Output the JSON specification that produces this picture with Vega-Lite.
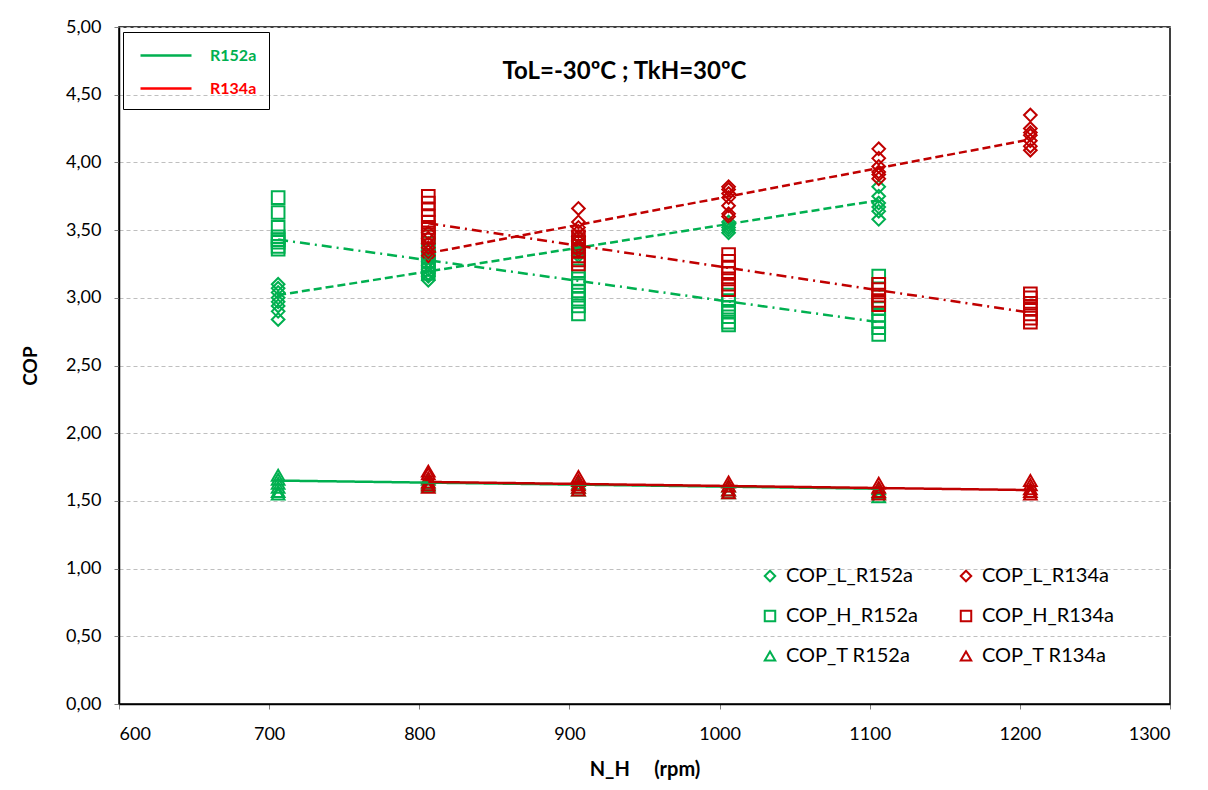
{
  "$schema": "https://vega.github.io/schema/vega-lite/v6.json",
  "width": 1051,
  "height": 677,
  "autosize": {"type": "none"},
  "padding": {"left": 119, "top": 27, "right": 38, "bottom": 86},
  "background": "white",
  "config": {
    "font": "Lato",
    "view": {"stroke": "black", "strokeWidth": 1.5},
    "axis": {"labelFont": "Lato", "titleFont": "Lato", "labelColor": "black", "titleColor": "black"}
  },
  "title": {"text": "ToL=-30ºC ; TkH=30ºC", "fontSize": 24, "fontWeight": "bold", "font": "Lato", "color": "black", "anchor": "middle", "offset": -66, "dx": -20},
  "datasets": {
    "pts": [
      {"series": "COP_L_R152a", "N": 706, "COP": 3.10}, {"series": "COP_L_R152a", "N": 706, "COP": 3.07}, {"series": "COP_L_R152a", "N": 706, "COP": 3.04}, {"series": "COP_L_R152a", "N": 706, "COP": 3.00}, {"series": "COP_L_R152a", "N": 706, "COP": 2.97}, {"series": "COP_L_R152a", "N": 706, "COP": 2.94}, {"series": "COP_L_R152a", "N": 706, "COP": 2.90}, {"series": "COP_L_R152a", "N": 706, "COP": 2.84},
      {"series": "COP_L_R152a", "N": 806, "COP": 3.35}, {"series": "COP_L_R152a", "N": 806, "COP": 3.30}, {"series": "COP_L_R152a", "N": 806, "COP": 3.27}, {"series": "COP_L_R152a", "N": 806, "COP": 3.24}, {"series": "COP_L_R152a", "N": 806, "COP": 3.21}, {"series": "COP_L_R152a", "N": 806, "COP": 3.18}, {"series": "COP_L_R152a", "N": 806, "COP": 3.16}, {"series": "COP_L_R152a", "N": 806, "COP": 3.13},
      {"series": "COP_L_R152a", "N": 906, "COP": 3.45}, {"series": "COP_L_R152a", "N": 906, "COP": 3.42}, {"series": "COP_L_R152a", "N": 906, "COP": 3.38}, {"series": "COP_L_R152a", "N": 906, "COP": 3.36}, {"series": "COP_L_R152a", "N": 906, "COP": 3.33}, {"series": "COP_L_R152a", "N": 906, "COP": 3.31},
      {"series": "COP_L_R152a", "N": 1006, "COP": 3.56}, {"series": "COP_L_R152a", "N": 1006, "COP": 3.54}, {"series": "COP_L_R152a", "N": 1006, "COP": 3.52}, {"series": "COP_L_R152a", "N": 1006, "COP": 3.50}, {"series": "COP_L_R152a", "N": 1006, "COP": 3.48},
      {"series": "COP_L_R152a", "N": 1106, "COP": 3.82}, {"series": "COP_L_R152a", "N": 1106, "COP": 3.75}, {"series": "COP_L_R152a", "N": 1106, "COP": 3.70}, {"series": "COP_L_R152a", "N": 1106, "COP": 3.67}, {"series": "COP_L_R152a", "N": 1106, "COP": 3.64}, {"series": "COP_L_R152a", "N": 1106, "COP": 3.58},

      {"series": "COP_H_R152a", "N": 706, "COP": 3.74}, {"series": "COP_H_R152a", "N": 706, "COP": 3.63}, {"series": "COP_H_R152a", "N": 706, "COP": 3.52}, {"series": "COP_H_R152a", "N": 706, "COP": 3.45}, {"series": "COP_H_R152a", "N": 706, "COP": 3.43}, {"series": "COP_H_R152a", "N": 706, "COP": 3.41}, {"series": "COP_H_R152a", "N": 706, "COP": 3.38}, {"series": "COP_H_R152a", "N": 706, "COP": 3.36},
      {"series": "COP_H_R152a", "N": 806, "COP": 3.45}, {"series": "COP_H_R152a", "N": 806, "COP": 3.40}, {"series": "COP_H_R152a", "N": 806, "COP": 3.35}, {"series": "COP_H_R152a", "N": 806, "COP": 3.31}, {"series": "COP_H_R152a", "N": 806, "COP": 3.27}, {"series": "COP_H_R152a", "N": 806, "COP": 3.24}, {"series": "COP_H_R152a", "N": 806, "COP": 3.21}, {"series": "COP_H_R152a", "N": 806, "COP": 3.18},
      {"series": "COP_H_R152a", "N": 906, "COP": 3.20}, {"series": "COP_H_R152a", "N": 906, "COP": 3.14}, {"series": "COP_H_R152a", "N": 906, "COP": 3.09}, {"series": "COP_H_R152a", "N": 906, "COP": 3.05}, {"series": "COP_H_R152a", "N": 906, "COP": 3.02}, {"series": "COP_H_R152a", "N": 906, "COP": 2.99}, {"series": "COP_H_R152a", "N": 906, "COP": 2.94}, {"series": "COP_H_R152a", "N": 906, "COP": 2.88},
      {"series": "COP_H_R152a", "N": 1006, "COP": 3.02}, {"series": "COP_H_R152a", "N": 1006, "COP": 2.98}, {"series": "COP_H_R152a", "N": 1006, "COP": 2.93}, {"series": "COP_H_R152a", "N": 1006, "COP": 2.90}, {"series": "COP_H_R152a", "N": 1006, "COP": 2.86}, {"series": "COP_H_R152a", "N": 1006, "COP": 2.82}, {"series": "COP_H_R152a", "N": 1006, "COP": 2.80},
      {"series": "COP_H_R152a", "N": 1106, "COP": 3.16}, {"series": "COP_H_R152a", "N": 1106, "COP": 3.10}, {"series": "COP_H_R152a", "N": 1106, "COP": 2.97}, {"series": "COP_H_R152a", "N": 1106, "COP": 2.92}, {"series": "COP_H_R152a", "N": 1106, "COP": 2.87}, {"series": "COP_H_R152a", "N": 1106, "COP": 2.83}, {"series": "COP_H_R152a", "N": 1106, "COP": 2.78}, {"series": "COP_H_R152a", "N": 1106, "COP": 2.73},

      {"series": "COP_T R152a", "N": 706, "COP": 1.69}, {"series": "COP_T R152a", "N": 706, "COP": 1.66}, {"series": "COP_T R152a", "N": 706, "COP": 1.63}, {"series": "COP_T R152a", "N": 706, "COP": 1.60}, {"series": "COP_T R152a", "N": 706, "COP": 1.57}, {"series": "COP_T R152a", "N": 706, "COP": 1.55},
      {"series": "COP_T R152a", "N": 806, "COP": 1.66}, {"series": "COP_T R152a", "N": 806, "COP": 1.63}, {"series": "COP_T R152a", "N": 806, "COP": 1.61},
      {"series": "COP_T R152a", "N": 906, "COP": 1.63}, {"series": "COP_T R152a", "N": 906, "COP": 1.60}, {"series": "COP_T R152a", "N": 906, "COP": 1.58},
      {"series": "COP_T R152a", "N": 1006, "COP": 1.61}, {"series": "COP_T R152a", "N": 1006, "COP": 1.58}, {"series": "COP_T R152a", "N": 1006, "COP": 1.56},
      {"series": "COP_T R152a", "N": 1106, "COP": 1.59}, {"series": "COP_T R152a", "N": 1106, "COP": 1.56}, {"series": "COP_T R152a", "N": 1106, "COP": 1.53},

      {"series": "COP_L_R134a", "N": 806, "COP": 3.48}, {"series": "COP_L_R134a", "N": 806, "COP": 3.44}, {"series": "COP_L_R134a", "N": 806, "COP": 3.40}, {"series": "COP_L_R134a", "N": 806, "COP": 3.37}, {"series": "COP_L_R134a", "N": 806, "COP": 3.34}, {"series": "COP_L_R134a", "N": 806, "COP": 3.31},
      {"series": "COP_L_R134a", "N": 906, "COP": 3.66}, {"series": "COP_L_R134a", "N": 906, "COP": 3.56}, {"series": "COP_L_R134a", "N": 906, "COP": 3.52}, {"series": "COP_L_R134a", "N": 906, "COP": 3.49}, {"series": "COP_L_R134a", "N": 906, "COP": 3.45}, {"series": "COP_L_R134a", "N": 906, "COP": 3.42}, {"series": "COP_L_R134a", "N": 906, "COP": 3.38}, {"series": "COP_L_R134a", "N": 906, "COP": 3.35},
      {"series": "COP_L_R134a", "N": 1006, "COP": 3.82}, {"series": "COP_L_R134a", "N": 1006, "COP": 3.80}, {"series": "COP_L_R134a", "N": 1006, "COP": 3.77}, {"series": "COP_L_R134a", "N": 1006, "COP": 3.74}, {"series": "COP_L_R134a", "N": 1006, "COP": 3.68}, {"series": "COP_L_R134a", "N": 1006, "COP": 3.62}, {"series": "COP_L_R134a", "N": 1006, "COP": 3.60},
      {"series": "COP_L_R134a", "N": 1106, "COP": 4.10}, {"series": "COP_L_R134a", "N": 1106, "COP": 4.03}, {"series": "COP_L_R134a", "N": 1106, "COP": 3.97}, {"series": "COP_L_R134a", "N": 1106, "COP": 3.93}, {"series": "COP_L_R134a", "N": 1106, "COP": 3.91}, {"series": "COP_L_R134a", "N": 1106, "COP": 3.88},
      {"series": "COP_L_R134a", "N": 1207, "COP": 4.35}, {"series": "COP_L_R134a", "N": 1207, "COP": 4.25}, {"series": "COP_L_R134a", "N": 1207, "COP": 4.22}, {"series": "COP_L_R134a", "N": 1207, "COP": 4.20}, {"series": "COP_L_R134a", "N": 1207, "COP": 4.16}, {"series": "COP_L_R134a", "N": 1207, "COP": 4.12}, {"series": "COP_L_R134a", "N": 1207, "COP": 4.09},

      {"series": "COP_H_R134a", "N": 806, "COP": 3.75}, {"series": "COP_H_R134a", "N": 806, "COP": 3.70}, {"series": "COP_H_R134a", "N": 806, "COP": 3.65}, {"series": "COP_H_R134a", "N": 806, "COP": 3.60}, {"series": "COP_H_R134a", "N": 806, "COP": 3.56}, {"series": "COP_H_R134a", "N": 806, "COP": 3.52}, {"series": "COP_H_R134a", "N": 806, "COP": 3.48}, {"series": "COP_H_R134a", "N": 806, "COP": 3.45},
      {"series": "COP_H_R134a", "N": 906, "COP": 3.45}, {"series": "COP_H_R134a", "N": 906, "COP": 3.41}, {"series": "COP_H_R134a", "N": 906, "COP": 3.38}, {"series": "COP_H_R134a", "N": 906, "COP": 3.35}, {"series": "COP_H_R134a", "N": 906, "COP": 3.31}, {"series": "COP_H_R134a", "N": 906, "COP": 3.28}, {"series": "COP_H_R134a", "N": 906, "COP": 3.25},
      {"series": "COP_H_R134a", "N": 1006, "COP": 3.32}, {"series": "COP_H_R134a", "N": 1006, "COP": 3.27}, {"series": "COP_H_R134a", "N": 1006, "COP": 3.22}, {"series": "COP_H_R134a", "N": 1006, "COP": 3.18}, {"series": "COP_H_R134a", "N": 1006, "COP": 3.14}, {"series": "COP_H_R134a", "N": 1006, "COP": 3.10}, {"series": "COP_H_R134a", "N": 1006, "COP": 3.06},
      {"series": "COP_H_R134a", "N": 1106, "COP": 3.10}, {"series": "COP_H_R134a", "N": 1106, "COP": 3.06}, {"series": "COP_H_R134a", "N": 1106, "COP": 3.02}, {"series": "COP_H_R134a", "N": 1106, "COP": 2.98}, {"series": "COP_H_R134a", "N": 1106, "COP": 2.95},
      {"series": "COP_H_R134a", "N": 1207, "COP": 3.03}, {"series": "COP_H_R134a", "N": 1207, "COP": 3.00}, {"series": "COP_H_R134a", "N": 1207, "COP": 2.96}, {"series": "COP_H_R134a", "N": 1207, "COP": 2.92}, {"series": "COP_H_R134a", "N": 1207, "COP": 2.88}, {"series": "COP_H_R134a", "N": 1207, "COP": 2.85}, {"series": "COP_H_R134a", "N": 1207, "COP": 2.82},

      {"series": "COP_T R134a", "N": 806, "COP": 1.72}, {"series": "COP_T R134a", "N": 806, "COP": 1.70}, {"series": "COP_T R134a", "N": 806, "COP": 1.67}, {"series": "COP_T R134a", "N": 806, "COP": 1.64}, {"series": "COP_T R134a", "N": 806, "COP": 1.62}, {"series": "COP_T R134a", "N": 806, "COP": 1.60},
      {"series": "COP_T R134a", "N": 906, "COP": 1.68}, {"series": "COP_T R134a", "N": 906, "COP": 1.65}, {"series": "COP_T R134a", "N": 906, "COP": 1.62}, {"series": "COP_T R134a", "N": 906, "COP": 1.60}, {"series": "COP_T R134a", "N": 906, "COP": 1.58},
      {"series": "COP_T R134a", "N": 1006, "COP": 1.64}, {"series": "COP_T R134a", "N": 1006, "COP": 1.61}, {"series": "COP_T R134a", "N": 1006, "COP": 1.58}, {"series": "COP_T R134a", "N": 1006, "COP": 1.56},
      {"series": "COP_T R134a", "N": 1106, "COP": 1.63}, {"series": "COP_T R134a", "N": 1106, "COP": 1.60}, {"series": "COP_T R134a", "N": 1106, "COP": 1.57}, {"series": "COP_T R134a", "N": 1106, "COP": 1.55},
      {"series": "COP_T R134a", "N": 1207, "COP": 1.65}, {"series": "COP_T R134a", "N": 1207, "COP": 1.62}, {"series": "COP_T R134a", "N": 1207, "COP": 1.59}, {"series": "COP_T R134a", "N": 1207, "COP": 1.57}, {"series": "COP_T R134a", "N": 1207, "COP": 1.55}
    ],
    "trend": [
      {"trend": "L_R152a", "fluid": "R152a", "kind": "L", "N": 706, "COP": 3.02},
      {"trend": "L_R152a", "fluid": "R152a", "kind": "L", "N": 1106, "COP": 3.72},
      {"trend": "H_R152a", "fluid": "R152a", "kind": "H", "N": 706, "COP": 3.43},
      {"trend": "H_R152a", "fluid": "R152a", "kind": "H", "N": 1106, "COP": 2.82},
      {"trend": "T_R152a", "fluid": "R152a", "kind": "T", "N": 706, "COP": 1.65},
      {"trend": "T_R152a", "fluid": "R152a", "kind": "T", "N": 1106, "COP": 1.59},
      {"trend": "L_R134a", "fluid": "R134a", "kind": "L", "N": 806, "COP": 3.33},
      {"trend": "L_R134a", "fluid": "R134a", "kind": "L", "N": 1207, "COP": 4.17},
      {"trend": "H_R134a", "fluid": "R134a", "kind": "H", "N": 806, "COP": 3.55},
      {"trend": "H_R134a", "fluid": "R134a", "kind": "H", "N": 1207, "COP": 2.89},
      {"trend": "T_R134a", "fluid": "R134a", "kind": "T", "N": 806, "COP": 1.64},
      {"trend": "T_R134a", "fluid": "R134a", "kind": "T", "N": 1207, "COP": 1.58}
    ]
  },
  "layer": [
    {
      "data": {"name": "pts"},
      "mark": {"type": "point", "filled": false, "strokeWidth": 2, "size": 160, "opacity": 1},
      "encoding": {
        "x": {"field": "N", "type": "quantitative", "scale": {"domain": [600, 1300], "nice": false, "zero": false},
          "axis": {"title": "N_H\u00a0\u00a0\u00a0\u00a0 (rpm)", "titleFontSize": 20, "titleFontWeight": "bold", "titlePadding": 16,
            "values": [600, 700, 800, 900, 1000, 1100, 1200, 1300], "format": "d", "labelFontSize": 18, "labelPadding": 16,
            "tickSize": 5, "tickColor": "#7f7f7f", "domainColor": "black", "domainWidth": 1.5, "grid": false}},
        "y": {"field": "COP", "type": "quantitative", "scale": {"domain": [0, 5], "nice": false},
          "axis": {"title": "COP", "titleFontSize": 19, "titleFontWeight": "bold", "titlePadding": 25,
            "values": [0, 0.5, 1, 1.5, 2, 2.5, 3, 3.5, 4, 4.5, 5],
            "labelExpr": "replace(format(datum.value, '.2f'), '.', ',')", "labelFontSize": 18, "labelPadding": 13,
            "tickSize": 5, "tickColor": "#7f7f7f", "domainColor": "black", "domainWidth": 1.5,
            "grid": true, "gridColor": "#BFBFBF", "gridDash": [4, 3], "gridWidth": 1}},
        "color": {"field": "series", "type": "nominal",
          "scale": {"domain": ["COP_L_R152a", "COP_H_R152a", "COP_T R152a", "COP_L_R134a", "COP_H_R134a", "COP_T R134a"],
            "range": ["#00B050", "#00B050", "#00B050", "#C00000", "#C00000", "#C00000"]},
          "legend": {"title": null, "orient": "none", "legendX": 641, "legendY": 539, "columns": 2, "labelFontSize": 20, "labelFont": "Lato", "labelColor": "black",
            "symbolSize": 110, "symbolStrokeWidth": 2, "rowPadding": 20, "columnPadding": 38, "labelOffset": 6, "labelLimit": 300}},
        "shape": {"field": "series", "type": "nominal",
          "scale": {"domain": ["COP_L_R152a", "COP_H_R152a", "COP_T R152a", "COP_L_R134a", "COP_H_R134a", "COP_T R134a"],
            "range": ["diamond", "square", "triangle-up", "diamond", "square", "triangle-up"]},
          "legend": {"title": null, "orient": "none", "legendX": 641, "legendY": 539, "columns": 2, "labelFontSize": 20, "labelFont": "Lato", "labelColor": "black",
            "symbolSize": 110, "symbolStrokeWidth": 2, "rowPadding": 20, "columnPadding": 38, "labelOffset": 6, "labelLimit": 300}}
      }
    },
    {
      "data": {"name": "trend"},
      "mark": {"type": "line", "strokeWidth": 2.5},
      "encoding": {
        "x": {"field": "N", "type": "quantitative"},
        "y": {"field": "COP", "type": "quantitative"},
        "detail": {"field": "trend"},
        "stroke": {"field": "fluid", "type": "nominal", "scale": {"domain": ["R152a", "R134a"], "range": ["#00B050", "#C00000"]}, "legend": null},
        "strokeDash": {"field": "kind", "type": "nominal", "scale": {"domain": ["L", "H", "T"], "range": [[8, 4], [10, 5, 2, 5], [1, 0]]}, "legend": null}
      }
    },
    {
      "data": {"name": "trend"},
      "mark": {"type": "line", "opacity": 0},
      "encoding": {
        "x": {"field": "N", "type": "quantitative"},
        "y": {"field": "COP", "type": "quantitative"},
        "detail": {"field": "trend"},
        "stroke": {"field": "fluid", "type": "nominal", "scale": {"domain": ["R152a", "R134a"], "range": ["#00B050", "#FF0000"]},
          "legend": {"title": null, "orient": "none", "legendX": 4, "legendY": 5, "symbolType": "M-0.6,0H4.5", "symbolSize": 400, "symbolStrokeWidth": 2.5, "symbolOpacity": 1, "symbolDash": [1, 0],
            "labelFontSize": 16, "labelFontWeight": "bold", "labelFont": "Lato", "labelOffset": 52, "labelExpr": "datum.label + '\u2003\u2003'",
            "strokeColor": "black", "padding": 12, "rowPadding": 13,
            "encode": {"labels": {"update": {"fill": {"signal": "datum.value === 'R152a' ? '#00B050' : '#FF0000'"}}}}}}
      }
    }
  ],
  "resolve": {"scale": {"stroke": "independent"}}
}
